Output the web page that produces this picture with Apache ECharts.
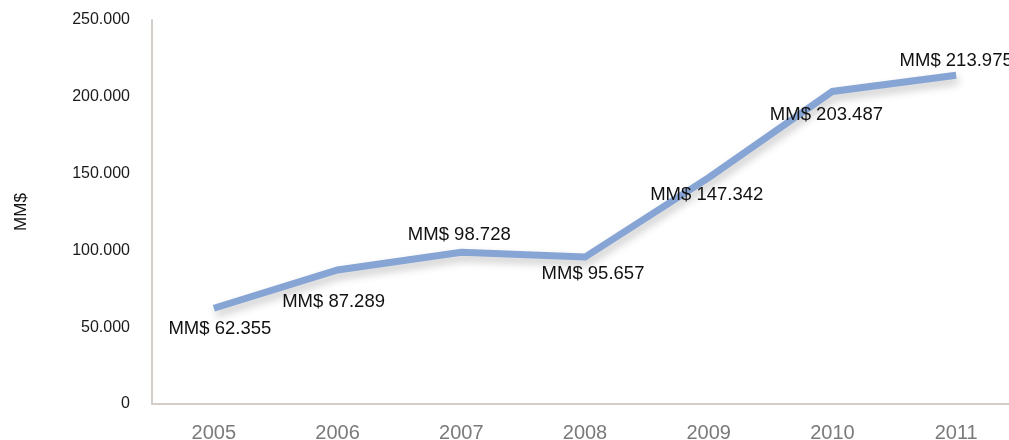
<!DOCTYPE html>
<html>
<head>
<meta charset="utf-8">
<script src="https://cdn.jsdelivr.net/npm/echarts@6/dist/echarts.min.js"></script>
<style>html,body{margin:0;padding:0;background:#fff;}#c{width:1009px;height:440px;}</style>
</head>
<body>
<div id="c"></div>
<script>
var years = ['2005', '2006', '2007', '2008', '2009', '2010', '2011'];
var values = [62355, 87289, 98728, 95657, 147342, 203487, 213975];
var yTicks = [0, 50000, 100000, 150000, 200000, 250000];
var labelOffsets = [[6, 21], [-4, 32], [-2, -17], [8, 17], [-2, 17], [-6, 23], [0, -14]];

function fmt(v) {
  var s = String(Math.round(v));
  return s.replace(/\B(?=(\d{3})+(?!\d))/g, '.');
}

var chart = echarts.init(document.getElementById('c'), null, {renderer: 'canvas'});
var font = '"Liberation Sans", Arial, Helvetica, sans-serif';
chart.setOption({
  animation: false,
  backgroundColor: '#ffffff',
  grid: {left: 152, width: 866, top: 20, bottom: 36, containLabel: false, outerBoundsMode: 'none'},
  xAxis: {
    type: 'category',
    data: years,
    boundaryGap: true,
    axisLine: {show: true, lineStyle: {color: '#d3cec8', width: 2}},
    axisTick: {show: false},
    axisLabel: {color: '#7a7a7a', fontSize: 20, fontFamily: font, margin: 19}
  },
  yAxis: {
    type: 'value',
    min: yTicks[0],
    max: yTicks[yTicks.length - 1],
    interval: yTicks[1] - yTicks[0],
    name: 'MM$',
    nameLocation: 'middle',
    nameGap: 122,
    nameRotate: 90,
    nameTextStyle: {color: '#111', fontSize: 17, fontFamily: font},
    axisLine: {show: true, lineStyle: {color: '#d3cec8', width: 2}},
    axisTick: {show: false},
    splitLine: {show: false},
    axisLabel: {color: '#1a1a1a', fontSize: 16, fontFamily: font, margin: 22,
      verticalAlign: 'middle', padding: [4, 0, 0, 0],
      formatter: function (v) { return fmt(v); }}
  },
  series: [{
    type: 'line',
    data: values.map(function (v, i) {
      return {value: v, label: {offset: labelOffsets[i]}};
    }),
    symbol: 'circle',
    symbolSize: 1,
    showSymbol: true,
    itemStyle: {color: 'rgba(0,0,0,0)'},
    lineStyle: {color: '#87a5d4', width: 7, cap: 'butt', join: 'miter',
      shadowColor: 'rgba(0,0,0,0.22)', shadowBlur: 8, shadowOffsetX: 2, shadowOffsetY: 5},
    label: {
      show: true,
      position: 'inside',
      color: '#111',
      fontSize: 18.5,
      fontFamily: font,
      formatter: function (p) { return 'MM$ ' + fmt(p.value); }
    },
    emphasis: {disabled: true}
  }]
});
</script>
</body>
</html>
